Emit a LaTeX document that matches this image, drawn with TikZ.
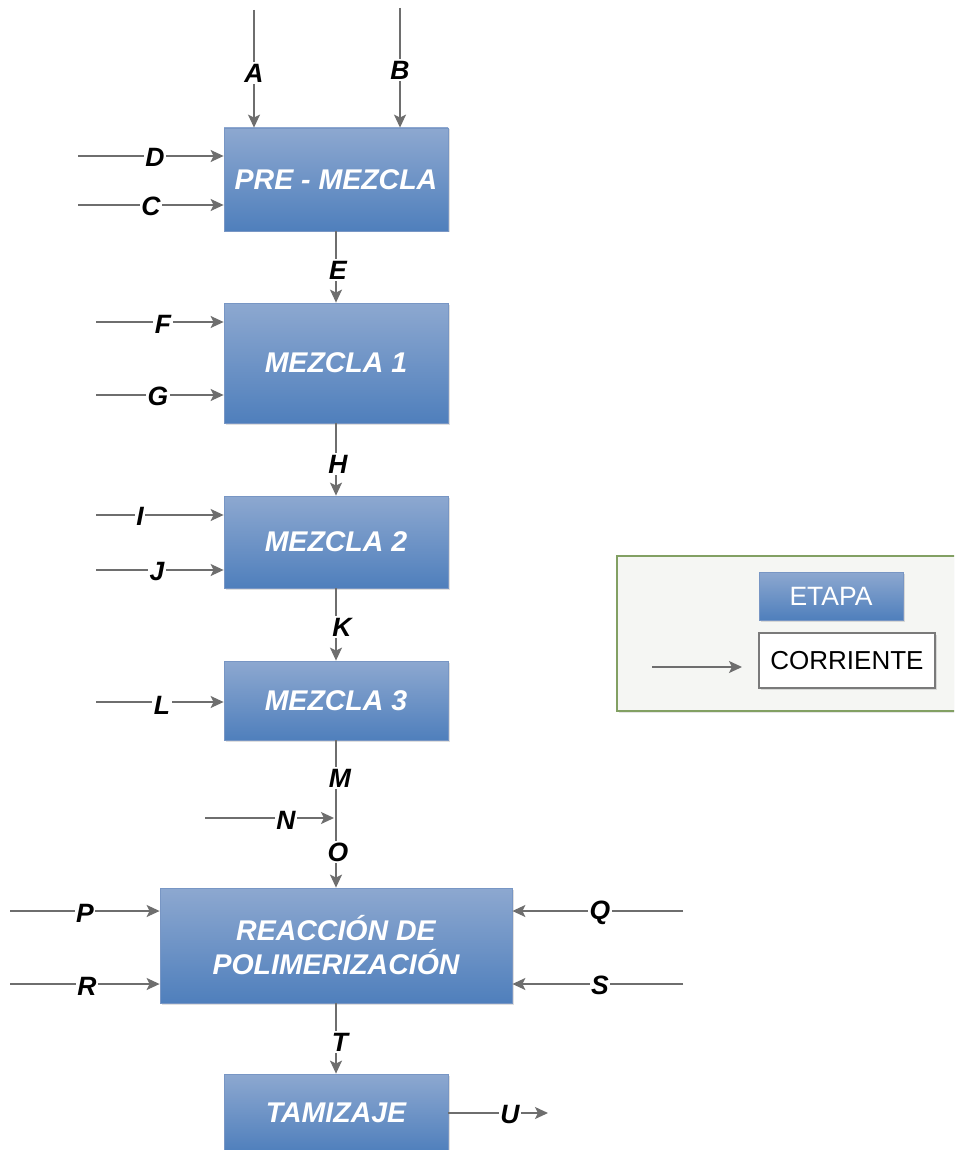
\documentclass[tikz,border=0pt]{standalone}
\usepackage{fontspec}
\setmainfont{Liberation Sans}
\usetikzlibrary{arrows.meta,shadows}
\definecolor{flowgray}{HTML}{6E6E6E}
\definecolor{stagetop}{HTML}{8DA8D0}
\definecolor{stagebot}{HTML}{4F7FBC}
\definecolor{stageedge}{HTML}{7896C4}
\definecolor{legendedge}{HTML}{82A063}
\definecolor{legendfill}{HTML}{F5F6F3}
\definecolor{boxedge}{HTML}{7A7A7A}
\tikzset{
  stage/.style={draw=stageedge, line width=0.8pt, top color=stagetop, bottom color=stagebot,
    minimum width=224pt, inner sep=0pt, text=white, align=center,
    font=\fontsize{28.5}{34}\selectfont\bfseries\itshape,
    drop shadow={opacity=0.25, shadow xshift=1.5pt, shadow yshift=-1.5pt}},
  flow/.style={draw=flowgray, line width=1.5pt, -{Stealth[length=13pt,width=12pt,inset=3pt]}},
  tag/.style={fill=white, inner sep=1.5pt, text=black,
    font=\fontsize{26.5}{26.5}\selectfont\bfseries\itshape},
}
\begin{document}
\begin{tikzpicture}[x=1pt,y=-1pt]
\clip (0,0) rectangle (954,1150);
\fill[white] (0,0) rectangle (954,1150);

% process stages
\node[stage, minimum height=103pt] (pre) at (336,179.5) {PRE - MEZCLA};
\node[stage, minimum height=120pt] (m1) at (336,363) {MEZCLA 1};
\node[stage, minimum height=92pt] (m2) at (336,542) {MEZCLA 2};
\node[stage, minimum height=79pt] (m3) at (336,700.5) {MEZCLA 3};
\node[stage, minimum width=352pt, minimum height=115pt] (reac) at (336,945.5)
  {REACCIÓN DE\\POLIMERIZACIÓN};
\node[stage, minimum height=78pt] (tam) at (336,1113) {TAMIZAJE};

% free ends of the streams
\coordinate (aTop) at (254,10);
\coordinate (bTop) at (400,8);
\coordinate (dIn) at (78,156);
\coordinate (cIn) at (78,205);
\coordinate (fIn) at (96,322);
\coordinate (gIn) at (96,395);
\coordinate (iIn) at (96,515);
\coordinate (jIn) at (96,570);
\coordinate (lIn) at (96,702);
\coordinate (nIn) at (205,818);
\coordinate (mJoin) at (336,818);
\coordinate (pIn) at (10,911);
\coordinate (rIn) at (10,984);
\coordinate (qIn) at (683,911);
\coordinate (sIn) at (683,984);
\coordinate (uOut) at (548,1113);

% streams
\draw[flow] (aTop) -- (pre.north -| aTop);
\draw[flow] (bTop) -- (pre.north -| bTop);
\draw[flow] (dIn) -- (pre.west |- dIn);
\draw[flow] (cIn) -- (pre.west |- cIn);
\draw[flow] (pre.south) -- (m1.north);
\draw[flow] (fIn) -- (m1.west |- fIn);
\draw[flow] (gIn) -- (m1.west |- gIn);
\draw[flow] (m1.south) -- (m2.north);
\draw[flow] (iIn) -- (m2.west |- iIn);
\draw[flow] (jIn) -- (m2.west |- jIn);
\draw[flow] (m2.south) -- (m3.north);
\draw[flow] (lIn) -- (m3.west |- lIn);
\draw[flow] (m3.south) -- (reac.north);
\draw[flow, shorten >=2pt] (nIn) -- (mJoin);
\draw[flow] (pIn) -- (reac.west |- pIn);
\draw[flow] (rIn) -- (reac.west |- rIn);
\draw[flow] (qIn) -- (reac.east |- qIn);
\draw[flow] (sIn) -- (reac.east |- sIn);
\draw[flow] (reac.south) -- (tam.north);
\draw[flow] (tam.east) -- (uOut);

% stream names
\node[tag] (tA) at (254,73) {A};
\node[tag] (tB) at (400,70) {B};
\node[tag] (tD) at (155,157) {D};
\node[tag] (tC) at (151,206) {C};
\node[tag] (tE) at (338,270) {E};
\node[tag] (tF) at (163,324) {F};
\node[tag] (tG) at (158,396) {G};
\node[tag] (tH) at (338,464) {H};
\node[tag] (tI) at (140,516) {I};
\node[tag] (tJ) at (157,572) {J};
\node[tag] (tK) at (342,627) {K};
\node[tag] (tL) at (162,705) {L};
\node[tag] (tM) at (340,778) {M};
\node[tag] (tN) at (286,820) {N};
\node[tag] (tO) at (338,852) {O};
\node[tag] (tP) at (85,913) {P};
\node[tag] (tR) at (87,986) {R};
\node[tag] (tQ) at (600,913) {Q};
\node[tag] (tS) at (600,985) {S};
\node[tag] (tT) at (340,1042) {T};
\node[tag] (tU) at (510,1114) {U};

% legend
\node[draw=legendedge, line width=1.2pt, fill=legendfill, minimum width=345pt,
  minimum height=155pt, inner sep=0pt,
  drop shadow={opacity=0.2, shadow xshift=1.5pt, shadow yshift=-1.5pt}] (legend) at (789.5,633.5) {};
\node[stage, minimum width=144pt, minimum height=48pt,
  font=\fontsize{26.5}{26.5}\selectfont] (legStage) at (831,596) {ETAPA};
\node[draw=boxedge, line width=1.2pt, fill=white, minimum width=176pt, minimum height=55pt,
  inner sep=0pt, font=\fontsize{26}{26}\selectfont,
  drop shadow={opacity=0.25, shadow xshift=1.5pt, shadow yshift=-1.5pt}] (legStream) at (847,660.5) {CORRIENTE};
\coordinate (legFrom) at (652,667);
\coordinate (legTo) at (742,667);
\draw[flow] (legFrom) -- (legTo);
\end{tikzpicture}
\end{document}
